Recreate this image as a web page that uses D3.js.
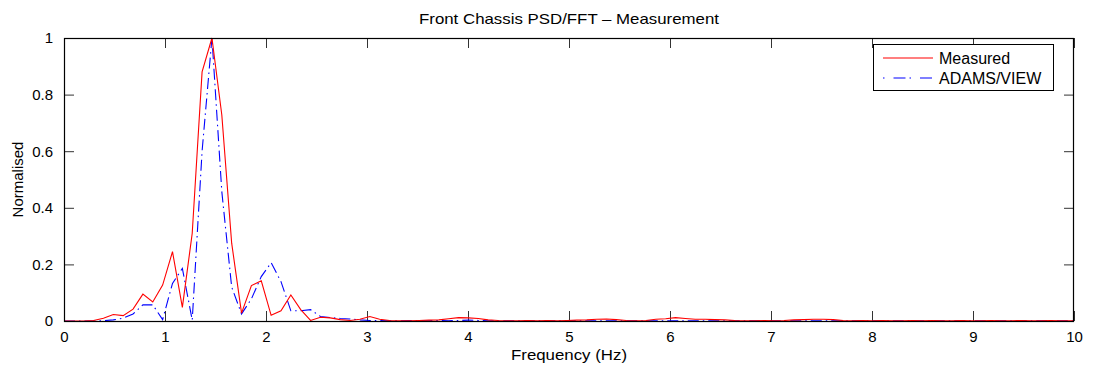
<!DOCTYPE html>
<html>
<head>
<meta charset="utf-8">
<script src="https://cdn.jsdelivr.net/npm/d3@7"></script>
<style>
  body { margin: 0; background: #fff; }
  text { font-family: "Liberation Sans", Arial, sans-serif; fill: #000; }
</style>
</head>
<body>
<script>
// frequency step of the FFT (Hz)
var df = 1 / 10.24;

// normalised spectra, one value per frequency bin
var measured = [0, 0, 0, 0.002, 0.01, 0.023, 0.019, 0.042, 0.095, 0.067,
  0.127, 0.245, 0.048, 0.31, 0.88, 1.0, 0.728, 0.275, 0.028, 0.125,
  0.142, 0.02, 0.036, 0.092, 0.04, 0.002, 0.013, 0.011, 0.005, 0.002,
  0.006, 0.016, 0.006, 0.002, 0.001, 0.001, 0.002, 0.003, 0.004, 0.008,
  0.012, 0.011, 0.009, 0.004, 0.002, 0.001, 0.001, 0.002, 0.001, 0.002,
  0.001, 0.002, 0.003, 0.004, 0.006, 0.007, 0.005, 0.002, 0.001, 0.002,
  0.006, 0.008, 0.012, 0.009, 0.006, 0.006, 0.005, 0.004, 0.002, 0.001,
  0.001, 0.002, 0.001, 0.002, 0.004, 0.005, 0.006, 0.006, 0.005, 0.002,
  0.001, 0.002, 0.001, 0.002, 0.001, 0.001, 0.002, 0.001, 0.002, 0.001,
  0.001, 0.002, 0.001, 0.001, 0.002, 0.001, 0.001, 0.002, 0.001, 0.001,
  0.002, 0.001, 0.001, 0.001];

var adams = [0, 0, 0, 0, 0.001, 0.004, 0.01, 0.025, 0.057, 0.057,
  0.005, 0.133, 0.186, 0.003, 0.6, 1.0, 0.457, 0.12, 0.025, 0.078,
  0.157, 0.206, 0.139, 0.036, 0.036, 0.04, 0.016, 0.012, 0.009, 0.007,
  0.004, 0.002, 0.002, 0.001, 0.001, 0.002, 0.001, 0.001, 0.002, 0.001,
  0.002, 0.003, 0.002, 0.001, 0.001, 0.001, 0.001, 0.001, 0.001, 0.001,
  0.001, 0.001, 0.001, 0.001, 0.001, 0.001, 0.001, 0.001, 0.001, 0.001,
  0.001, 0.001, 0.001, 0.001, 0.001, 0.001, 0.001, 0.001, 0.001, 0.001,
  0.001, 0.001, 0.001, 0.001, 0.001, 0.001, 0.001, 0.001, 0.001, 0.001,
  0.001, 0.001, 0.001, 0.001, 0.001, 0.001, 0.001, 0.001, 0.001, 0.001,
  0.001, 0.001, 0.001, 0.001, 0.001, 0.001, 0.001, 0.001, 0.001, 0.001,
  0.001, 0.001, 0.001, 0.001];

var xTicks = [0, 1, 2, 3, 4, 5, 6, 7, 8, 9, 10];
var yTicks = [0, 0.2, 0.4, 0.6, 0.8, 1];
var yTickLabels = ["0", "0.2", "0.4", "0.6", "0.8", "1"];
var seriesNames = ["Measured", "ADAMS/VIEW"];

var w = 1093, h = 370;
var margin = {top: 38, right: 19, bottom: 49, left: 64};
var fontSize = 15;

var svg = d3.select("body").append("svg")
  .attr("width", w)
  .attr("height", h);

var xScale = d3.scaleLinear()
  .domain([0, 10])
  .range([margin.left, w - margin.right]);

var yScale = d3.scaleLinear()
  .domain([0, 1])
  .range([h - margin.bottom, margin.top]);

// clip for the lines
svg.append("clipPath").attr("id", "plotclip")
  .append("rect")
  .attr("x", margin.left)
  .attr("y", margin.top - 2)
  .attr("width", w - margin.left - margin.right)
  .attr("height", h - margin.top - margin.bottom + 2);

// ticks point inwards, mirrored on top and right like MATLAB
var tickLen = 10;
svg.append("g")
  .attr("transform", "translate(0," + (h - margin.bottom) + ")")
  .call(d3.axisBottom(xScale).tickValues(xTicks).tickSize(-tickLen).tickPadding(10).tickFormat(d3.format("d")))
  .call(function(g) { g.select(".domain").remove(); });
svg.append("g")
  .attr("transform", "translate(0," + margin.top + ")")
  .call(d3.axisTop(xScale).tickValues(xTicks).tickSize(-tickLen).tickFormat(""))
  .call(function(g) { g.select(".domain").remove(); });
svg.append("g")
  .attr("transform", "translate(" + margin.left + ",0)")
  .call(d3.axisLeft(yScale).tickValues(yTicks).tickSize(-tickLen).tickPadding(11)
    .tickFormat(function(d, i) { return yTickLabels[i]; }))
  .call(function(g) { g.select(".domain").remove(); });
svg.append("g")
  .attr("transform", "translate(" + (w - margin.right) + ",0)")
  .call(d3.axisRight(yScale).tickValues(yTicks).tickSize(-tickLen).tickFormat(""))
  .call(function(g) { g.select(".domain").remove(); });

svg.selectAll(".tick text")
  .style("font-family", "'Liberation Sans', Arial, sans-serif")
  .style("font-size", fontSize + "px")
  .attr("fill", "#000");
svg.selectAll(".tick line").attr("stroke", "#333");

// lines
var line = d3.line()
  .x(function(d, i) { return xScale(i * df); })
  .y(function(d) { return yScale(d); });

var lines = svg.append("g").attr("clip-path", "url(#plotclip)");
lines.append("path")
  .datum(adams)
  .attr("d", line)
  .attr("fill", "none")
  .attr("stroke", "#0000ff")
  .attr("stroke-width", 1.1)
  .attr("stroke-dasharray", "11,4,1.5,4");
lines.append("path")
  .datum(measured)
  .attr("d", line)
  .attr("fill", "none")
  .attr("stroke", "#ff0000")
  .attr("stroke-width", 1.1);

// box
svg.append("rect")
  .attr("x", margin.left + 0.5)
  .attr("y", margin.top + 0.5)
  .attr("width", w - margin.left - margin.right - 1)
  .attr("height", h - margin.top - margin.bottom)
  .attr("fill", "none")
  .attr("stroke", "#000")
  .attr("stroke-width", 1.2);

// title and axis labels
svg.append("text")
  .attr("x", (margin.left + w - margin.right) / 2)
  .attr("y", 24)
  .attr("text-anchor", "middle")
  .attr("textLength", 300)
  .attr("lengthAdjust", "spacingAndGlyphs")
  .style("font-size", fontSize + "px")
  .text("Front Chassis PSD/FFT \u2013 Measurement");

svg.append("text")
  .attr("x", (margin.left + w - margin.right) / 2)
  .attr("y", 360)
  .attr("text-anchor", "middle")
  .attr("textLength", 116)
  .attr("lengthAdjust", "spacingAndGlyphs")
  .style("font-size", fontSize + "px")
  .text("Frequency (Hz)");

svg.append("text")
  .attr("transform", "translate(23," + ((margin.top + h - margin.bottom) / 2) + ") rotate(-90)")
  .attr("text-anchor", "middle")
  .style("font-size", fontSize + "px")
  .text("Normalised");

// legend
var legend = svg.append("g").attr("transform", "translate(873,44.5)");
legend.append("rect")
  .attr("x", 0.5)
  .attr("y", 0)
  .attr("width", 180)
  .attr("height", 46)
  .attr("fill", "#fff")
  .attr("stroke", "#000")
  .attr("stroke-width", 1);

var legendStyles = [
  {color: "#ff0000", dash: null},
  {color: "#0000ff", dash: "1.5,9,12,4"}
];
seriesNames.forEach(function(name, i) {
  var y = 13.5 + i * 20;
  legend.append("line")
    .attr("x1", 10).attr("x2", 60)
    .attr("y1", y).attr("y2", y)
    .attr("stroke", legendStyles[i].color)
    .attr("stroke-width", 1.1)
    .attr("stroke-dasharray", legendStyles[i].dash);
  legend.append("text")
    .attr("x", 66)
    .attr("y", y + 5.5)
    .style("font-size", (fontSize + 1) + "px")
    .text(name);
});
</script>
</body>
</html>
